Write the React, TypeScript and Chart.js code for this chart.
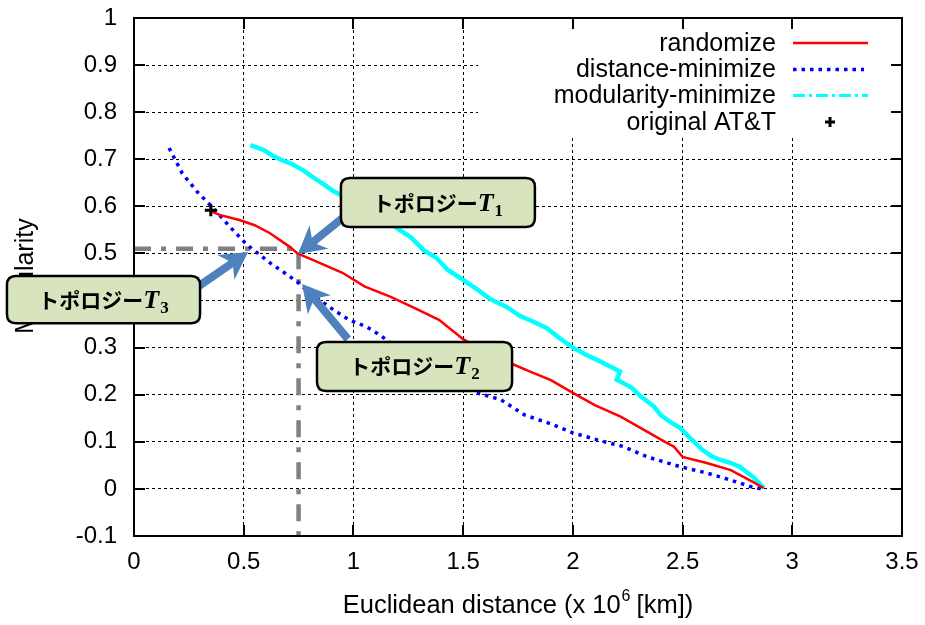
import React, { useEffect, useRef } from 'react';
import { Chart, registerables } from 'chart.js';

Chart.register(...registerables);

// ---------- data ----------
const xTickValues = [0, 0.5, 1, 1.5, 2, 2.5, 3, 3.5];
const yTickValues = [-0.1, 0, 0.1, 0.2, 0.3, 0.4, 0.5, 0.6, 0.7, 0.8, 0.9, 1];

const seriesLabels = ['randomize', 'distance-minimize', 'modularity-minimize', 'original AT&T'];

const randomizeData: [number, number][] = [
  [0.35, 0.59], [0.39, 0.582], [0.48, 0.571], [0.55, 0.56], [0.62, 0.543], [0.71, 0.514],
  [0.745, 0.5], [0.835, 0.482], [0.95, 0.459], [1.05, 0.43], [1.17, 0.408], [1.27, 0.386],
  [1.39, 0.359], [1.5, 0.318], [1.6, 0.29], [1.7, 0.27], [1.8, 0.25], [1.9, 0.231],
  [2.0, 0.204], [2.1, 0.178], [2.22, 0.153], [2.34, 0.121], [2.42, 0.1], [2.46, 0.09],
  [2.5, 0.068], [2.61, 0.055], [2.72, 0.04], [2.76, 0.03], [2.82, 0.015], [2.87, 0.002],
];

const distanceMinData: [number, number][] = [
  [0.16, 0.724], [0.22, 0.67], [0.29, 0.63], [0.36, 0.597], [0.44, 0.555], [0.516, 0.518],
  [0.62, 0.48], [0.744, 0.44], [0.79, 0.42], [0.85, 0.4], [0.91, 0.38], [0.98, 0.359],
  [1.06, 0.344], [1.12, 0.327], [1.17, 0.31], [1.3, 0.27], [1.45, 0.235], [1.56, 0.204],
  [1.67, 0.19], [1.78, 0.157], [1.9, 0.138], [2.0, 0.119], [2.12, 0.103], [2.23, 0.09],
  [2.34, 0.068], [2.49, 0.047], [2.6, 0.035], [2.69, 0.023], [2.81, 0.005], [2.86, 0.0],
];

const modularityMinData: [number, number][] = [
  [0.53, 0.73], [0.56, 0.725], [0.59, 0.72], [0.63, 0.708], [0.665, 0.7], [0.72, 0.69],
  [0.77, 0.677], [0.834, 0.656], [0.87, 0.645], [0.91, 0.632], [0.96, 0.62], [1.02, 0.605],
  [1.08, 0.59], [1.15, 0.57], [1.21, 0.55], [1.26, 0.535], [1.32, 0.507], [1.38, 0.49],
  [1.43, 0.465], [1.5, 0.444], [1.56, 0.425], [1.62, 0.404], [1.7, 0.386], [1.76, 0.367],
  [1.82, 0.355], [1.88, 0.342], [1.94, 0.32], [2.0, 0.3], [2.06, 0.285], [2.11, 0.274],
  [2.17, 0.26], [2.215, 0.249], [2.2, 0.232], [2.24, 0.222], [2.27, 0.214], [2.31, 0.196],
  [2.37, 0.175], [2.4, 0.157], [2.45, 0.14], [2.49, 0.129], [2.53, 0.11], [2.59, 0.083],
  [2.63, 0.07], [2.67, 0.062], [2.72, 0.055], [2.76, 0.047], [2.82, 0.026], [2.85, 0.012],
  [2.87, 0.002],
];

const originalData: [number, number][] = [[0.35, 0.592]];

// reference guide (dash-dot gray)
const guideData: [number, number][] = [[0, 0.51], [0.75, 0.51], [0.75, -0.1]];

// callouts: box [x1, x2, yTop, yBottom], tail, tip (data units), subscript
const calloutSubs = ['1', '2', '3'];
const calloutBoxes: [number, number, number, number][] = [
  [0.943, 1.827, 0.66, 0.556],
  [0.834, 1.723, 0.312, 0.208],
  [-0.579, 0.301, 0.452, 0.352],
];
const calloutTails: [number, number][] = [[0.95, 0.575], [0.975, 0.318], [0.29, 0.429]];
const calloutTips: [number, number][] = [[0.747, 0.499], [0.766, 0.435], [0.52, 0.503]];

const SANS = '"Liberation Sans", Arial, Helvetica, sans-serif';

const toXY = (arr: [number, number][]) => arr.map(([x, y]) => ({ x, y }));

function drawArrow(ctx: CanvasRenderingContext2D, x1: number, y1: number, x2: number, y2: number) {
  const shaftW = 8, headL = 27, headW = 30, notch = 6;
  const dx = x2 - x1, dy = y2 - y1;
  const len = Math.hypot(dx, dy);
  const ux = dx / len, uy = dy / len;
  const nx = -uy, ny = ux;
  const bx = x2 - ux * headL, by = y2 - uy * headL;
  const cx = bx + ux * notch, cy = by + uy * notch;
  ctx.beginPath();
  ctx.moveTo(x1 + nx * shaftW / 2, y1 + ny * shaftW / 2);
  ctx.lineTo(cx + nx * shaftW / 2, cy + ny * shaftW / 2);
  ctx.lineTo(bx + nx * headW / 2, by + ny * headW / 2);
  ctx.lineTo(x2, y2);
  ctx.lineTo(bx - nx * headW / 2, by - ny * headW / 2);
  ctx.lineTo(cx - nx * shaftW / 2, cy - ny * shaftW / 2);
  ctx.lineTo(x1 - nx * shaftW / 2, y1 - ny * shaftW / 2);
  ctx.closePath();
  ctx.fill();
}

function roundRect(ctx: CanvasRenderingContext2D, x: number, y: number, w: number, h: number, r: number) {
  ctx.beginPath();
  ctx.moveTo(x + r, y);
  ctx.lineTo(x + w - r, y);
  ctx.quadraticCurveTo(x + w, y, x + w, y + r);
  ctx.lineTo(x + w, y + h - r);
  ctx.quadraticCurveTo(x + w, y + h, x + w - r, y + h);
  ctx.lineTo(x + r, y + h);
  ctx.quadraticCurveTo(x, y + h, x, y + h - r);
  ctx.lineTo(x, y + r);
  ctx.quadraticCurveTo(x, y, x + r, y);
  ctx.closePath();
}

const overlayPlugin = {
  id: 'overlay',
  beforeDatasetsDraw(chart: any) {
    const { ctx, chartArea } = chart;
    ctx.save();
    ctx.fillStyle = '#ffffff';
    ctx.fillRect(chartArea.right - 424, chartArea.top + 12, 420, 105);
    ctx.restore();
  },
  afterDraw(chart: any) {
    const { ctx, chartArea } = chart;
    const xs = chart.scales.x;
    const ys = chart.scales.y;
    const { left, right, top, bottom } = chartArea;
    ctx.save();

    // border
    ctx.strokeStyle = '#000';
    ctx.lineWidth = 2;
    ctx.setLineDash([]);
    ctx.strokeRect(left, top, right - left, bottom - top);

    // inward ticks
    const tl = 11;
    ctx.beginPath();
    xTickValues.forEach((v) => {
      const px = Math.round(xs.getPixelForValue(v));
      ctx.moveTo(px, bottom); ctx.lineTo(px, bottom - tl);
      ctx.moveTo(px, top); ctx.lineTo(px, top + tl);
    });
    yTickValues.forEach((v) => {
      const py = Math.round(ys.getPixelForValue(v));
      ctx.moveTo(left, py); ctx.lineTo(left + tl, py);
      ctx.moveTo(right, py); ctx.lineTo(right - tl, py);
    });
    ctx.stroke();

    // legend
    const textRight = right - 126;
    const sx1 = right - 109, sx2 = right - 34;
    const rows = [top + 25, top + 51.5, top + 77.5, top + 104];
    ctx.font = `25px ${SANS}`;
    ctx.fillStyle = '#000';
    ctx.textAlign = 'right';
    ctx.textBaseline = 'middle';
    seriesLabels.forEach((lab, i) => ctx.fillText(lab, textRight, rows[i] + 1));
    // samples
    ctx.lineCap = 'butt';
    ctx.strokeStyle = '#ff0000'; ctx.lineWidth = 2.5; ctx.setLineDash([]);
    ctx.beginPath(); ctx.moveTo(sx1, rows[0]); ctx.lineTo(sx2, rows[0]); ctx.stroke();
    ctx.strokeStyle = '#0000ff'; ctx.lineWidth = 3.5; ctx.setLineDash([3.5, 5]);
    ctx.beginPath(); ctx.moveTo(sx1, rows[1]); ctx.lineTo(sx2 - 4, rows[1]); ctx.stroke();
    ctx.strokeStyle = '#00ffff'; ctx.lineWidth = 3; ctx.setLineDash([12, 4, 3, 4]);
    ctx.beginPath(); ctx.moveTo(sx1, rows[2]); ctx.lineTo(sx2, rows[2]); ctx.stroke();
    ctx.setLineDash([]);
    ctx.strokeStyle = '#000'; ctx.lineWidth = 3;
    const pcx = right - 72, pcy = rows[3];
    ctx.beginPath();
    ctx.moveTo(pcx - 5, pcy); ctx.lineTo(pcx + 5, pcy);
    ctx.moveTo(pcx, pcy - 5); ctx.lineTo(pcx, pcy + 5);
    ctx.stroke();

    // x axis title with superscript
    const p1 = 'Euclidean distance (x 10';
    const p2 = '6';
    const p3 = ' [km])';
    const tf = `25.5px ${SANS}`;
    ctx.textAlign = 'left';
    ctx.textBaseline = 'alphabetic';
    ctx.font = tf;
    const w1 = ctx.measureText(p1).width;
    const w3 = ctx.measureText(p3).width;
    ctx.font = `16px ${SANS}`;
    const w2 = ctx.measureText(p2).width;
    const total = w1 + w2 + w3;
    const tx = (left + right) / 2 - total / 2;
    const tby = 613;
    ctx.font = tf;
    ctx.fillText(p1, tx, tby);
    ctx.font = `16px ${SANS}`;
    ctx.fillText(p2, tx + w1 + 1, tby - 12);
    ctx.font = tf;
    ctx.fillText(p3, tx + w1 + w2, tby);

    // y axis title
    ctx.save();
    ctx.translate(33, 276);
    ctx.rotate(-Math.PI / 2);
    ctx.textAlign = 'center';
    ctx.textBaseline = 'alphabetic';
    ctx.font = `25px ${SANS}`;
    ctx.fillText('Modularity', 0, 0);
    ctx.restore();

    // arrows
    ctx.fillStyle = '#4f81bd';
    calloutTails.forEach((t, i) => {
      const tip = calloutTips[i];
      drawArrow(ctx, xs.getPixelForValue(t[0]), ys.getPixelForValue(t[1]),
        xs.getPixelForValue(tip[0]), ys.getPixelForValue(tip[1]));
    });

    // callout boxes
    calloutBoxes.forEach((b, i) => {
      const bx1 = xs.getPixelForValue(b[0]);
      const bx2 = xs.getPixelForValue(b[1]);
      const by1 = ys.getPixelForValue(b[2]);
      const by2 = ys.getPixelForValue(b[3]);
      roundRect(ctx, bx1, by1, bx2 - bx1, by2 - by1, 9);
      ctx.fillStyle = '#d7e4bd';
      ctx.fill();
      ctx.strokeStyle = '#000';
      ctx.lineWidth = 2.5;
      ctx.stroke();

      const jp = 'トポロジー';
      const tT = 'T';
      const sub = calloutSubs[i];
      const fJP = 'bold 21px "Noto Sans CJK JP", sans-serif';
      const fT = 'italic bold 26px "Liberation Serif", "DejaVu Serif", serif';
      const fS = 'bold 17px "Liberation Serif", "DejaVu Serif", serif';
      ctx.font = fJP; const wj = ctx.measureText(jp).width;
      ctx.font = fT; const wt = ctx.measureText(tT).width;
      ctx.font = fS; const ws = ctx.measureText(sub).width;
      const tw = wj + wt + ws + 1;
      let cx = (bx1 + bx2) / 2 - tw / 2;
      const base = (by1 + by2) / 2 + 8;
      ctx.fillStyle = '#000';
      ctx.textAlign = 'left';
      ctx.textBaseline = 'alphabetic';
      ctx.font = fJP; ctx.fillText(jp, cx, base);
      cx += wj;
      ctx.font = fT; ctx.fillText(tT, cx, base);
      cx += wt + 1;
      ctx.font = fS; ctx.fillText(sub, cx, base + 5);
    });

    ctx.restore();
  },
};

export default function App() {
  const canvasRef = useRef<HTMLCanvasElement | null>(null);

  useEffect(() => {
    if (!canvasRef.current) return;
    const tickFont = { family: SANS, size: 24 };
    const chart = new Chart(canvasRef.current, {
      type: 'scatter',
      data: {
        datasets: [
          {
            label: 'guide',
            data: toXY(guideData),
            showLine: true,
            borderColor: '#808080',
            borderWidth: 4.5,
            borderDash: [17, 10, 5, 10],
            pointRadius: 0,
            fill: false,
            order: 5,
          },
          {
            label: seriesLabels[2],
            data: toXY(modularityMinData),
            showLine: true,
            borderColor: '#00ffff',
            borderWidth: 4.5,
            pointRadius: 0,
            tension: 0,
            fill: false,
            order: 4,
          },
          {
            label: seriesLabels[1],
            data: toXY(distanceMinData),
            showLine: true,
            borderColor: '#0000ff',
            borderWidth: 3.5,
            borderDash: [3.5, 5],
            pointRadius: 0,
            tension: 0,
            fill: false,
            order: 3,
          },
          {
            label: seriesLabels[0],
            data: toXY(randomizeData),
            showLine: true,
            borderColor: '#ff0000',
            borderWidth: 2.5,
            pointRadius: 0,
            tension: 0,
            fill: false,
            order: 2,
          },
          {
            label: seriesLabels[3],
            data: toXY(originalData),
            showLine: false,
            pointStyle: 'cross',
            pointRadius: 6,
            pointBorderWidth: 3,
            pointBorderColor: '#000',
            pointBackgroundColor: '#000',
            order: 1,
          },
        ],
      },
      options: {
        animation: false,
        responsive: true,
        maintainAspectRatio: false,
        layout: { padding: { top: 18, right: 23, left: 0, bottom: 0 } },
        plugins: {
          legend: { display: false },
          tooltip: { enabled: false },
        },
        scales: {
          x: {
            type: 'linear',
            min: 0,
            max: 3.5,
            afterBuildTicks: (s: any) => {
              s.ticks = xTickValues.map((v) => ({ value: v }));
            },
            afterFit: (s: any) => {
              s.height = 89;
              s.paddingLeft = 0;
              s.paddingRight = 0;
              s.paddingTop = 0;
              s.paddingBottom = 0;
            },
            ticks: {
              font: tickFont,
              color: '#000',
              padding: 12,
              maxRotation: 0,
              autoSkip: false,
              callback: (v: any) => String(Math.round(Number(v) * 10) / 10),
            },
            grid: { color: '#000', lineWidth: 1, drawTicks: false },
            border: { display: false, dash: [3, 3] },
          },
          y: {
            type: 'linear',
            min: -0.1,
            max: 1,
            afterBuildTicks: (s: any) => {
              s.ticks = yTickValues.map((v) => ({ value: v }));
            },
            afterFit: (s: any) => {
              s.width = 134;
              s.paddingLeft = 0;
              s.paddingRight = 0;
              s.paddingTop = 0;
              s.paddingBottom = 0;
            },
            ticks: {
              font: tickFont,
              color: '#000',
              padding: 17,
              autoSkip: false,
              callback: (v: any) => String(Math.round(Number(v) * 10) / 10),
            },
            grid: { color: '#000', lineWidth: 1, drawTicks: false },
            border: { display: false, dash: [3, 3] },
          },
        },
      },
      plugins: [overlayPlugin],
    } as any);
    return () => chart.destroy();
  }, []);

  return (
    <div style={{ position: 'absolute', left: 0, top: 0, width: 925, height: 625, background: '#fff' }}>
      <canvas ref={canvasRef} />
    </div>
  );
}
